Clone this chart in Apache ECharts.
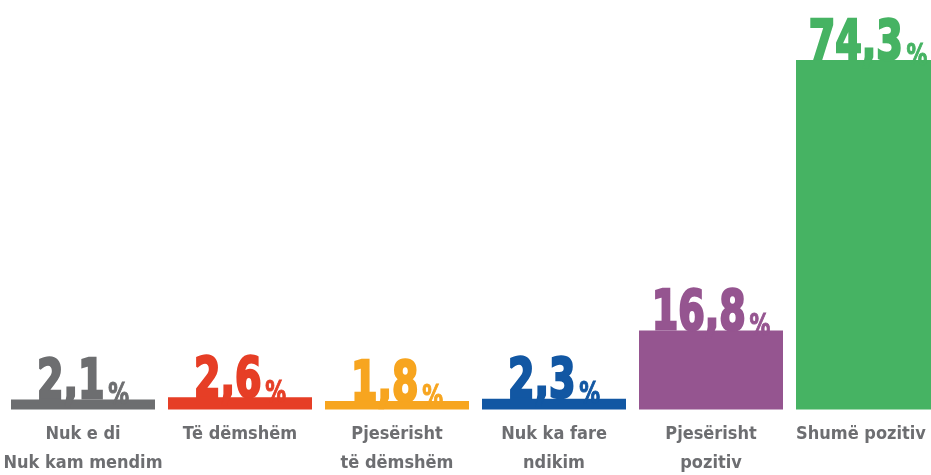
<!DOCTYPE html>
<html><head><meta charset="utf-8">
<script src="https://cdn.jsdelivr.net/npm/echarts@6/dist/echarts.min.js"></script>
<style>html,body{margin:0;padding:0;background:#fff}#c{width:931px;height:475px}</style>
</head><body><div id="c"></div>
<script>
const categories = ['Nuk e di\nNuk kam mendim', 'Të dëmshëm', 'Pjesërisht\ntë dëmshëm', 'Nuk ka fare\nndikim', 'Pjesërisht\npozitiv', 'Shumë pozitiv'];
const values = [2.1, 2.6, 1.8, 2.3, 16.8, 74.3];
const colors = ['#6d6e70', '#e63e26', '#f7a51f', '#1257a3', '#955590', '#46b363'];

const FONT = '"DejaVu Sans Condensed", "DejaVu Sans", sans-serif';
const chart = echarts.init(document.getElementById('c'));
chart.setOption({
  animation: false,
  grid: { left: 4.5, right: -15.5, top: 60, bottom: 65.5, containLabel: false, outerBoundsMode: 'none' },
  xAxis: {
    type: 'category',
    data: categories.map((c, i) => i === categories.length - 1 ? { value: c, textStyle: { padding: [0, 14, 0, 0] } } : c),
    axisLine: { show: false }, axisTick: { show: false },
    axisLabel: { interval: 0, margin: 10, color: '#6d6e71', fontFamily: FONT, fontWeight: 'bold', fontSize: 18, lineHeight: 29 }
  },
  yAxis: { type: 'value', min: 0, max: 74.3, show: false, splitLine: { show: false } },
  series: [{
    type: 'bar', barWidth: 144,
    data: values.map((v, i) => ({ value: v, itemStyle: { color: colors[i] } })),
    z: 2
  }, {
    type: 'custom',
    data: values.map((v, i) => [i, v]),
    z: 3,
    renderItem: function (params, api) {
      const i = api.value(0), v = api.value(1);
      const pt = api.coord([i, v]);
      const c = colors[i];
      return {
        type: 'text',
        x: pt[0], y: pt[1] + 12,
        scaleX: 0.77,
        style: {
          text: '{n|' + v.toFixed(1).replace('.', ',') + '}{p|%}',
          align: 'center', verticalAlign: 'bottom',
          fill: c,
          rich: {
            n: { fontFamily: FONT, fontWeight: 'bold', fontSize: 55, lineHeight: 50, verticalAlign: 'bottom', fill: c, stroke: c, lineWidth: 2.5 },
            p: { fontFamily: FONT, fontWeight: 'bold', fontSize: 30, lineHeight: 39, verticalAlign: 'bottom', padding: [0, 0, 0, 5], fill: c, stroke: c, lineWidth: 1 }
          }
        }
      };
    }
  }]
});
</script></body></html>
